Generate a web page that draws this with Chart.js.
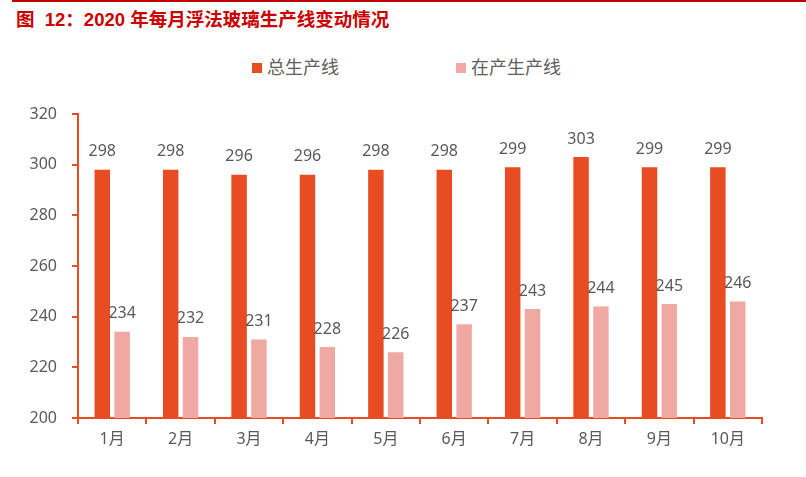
<!DOCTYPE html>
<html>
<head>
<meta charset="utf-8">
<script src="https://cdn.jsdelivr.net/npm/chart.js@4/dist/chart.umd.min.js"></script>
<style>
    body { margin: 0; background: #fff; }
    #wrap { position: relative; width: 806px; height: 477px; overflow: hidden; }
    #topline { position: absolute; left: 12px; right: 0; top: 0; height: 2px; background: #c00000; }
    #title { position: absolute; left: 16px; top: 5px; font: bold 18.5px "Liberation Sans", "Noto Sans CJK SC"; color: #cc0000; white-space: pre; }
    #legend { position: absolute; top: 53px; left: 252px; font: 18px "Noto Sans CJK SC"; color: #606060; white-space: nowrap; }
    #legend span.item { position: absolute; top: 0; }
    #legend i { display: inline-block; width: 10px; height: 10px; margin-right: 5px; vertical-align: 1px; }
    canvas { position: absolute; left: 0; top: 0; }
</style>
</head>
<body>
<div id="wrap">
    <div id="topline"></div>
    <div id="title">图  12：2020 年每月浮法玻璃生产线变动情况</div>
    <div id="legend"></div>
    <canvas id="chart" width="806" height="477"></canvas>
</div>
<script>
const months = ['1月', '2月', '3月', '4月', '5月', '6月', '7月', '8月', '9月', '10月'];
const totalLines = [298, 298, 296, 296, 298, 298, 299, 303, 299, 299];
const activeLines = [234, 232, 231, 228, 226, 237, 243, 244, 245, 246];
const seriesNames = ['总生产线', '在产生产线'];
const seriesColors = ['#e84c22', '#f0a8a2'];

const axisColor = '#e84c22';
const textColor = '#595959';
const tickFont = { family: '"Noto Sans", "Noto Sans CJK SC"', size: 16 };

// legend in html, spaced like the original
const legendBox = document.getElementById('legend');
const legendLeft = [0, 204];
seriesNames.forEach((name, i) => {
    const item = document.createElement('span');
    item.className = 'item';
    item.style.left = legendLeft[i] + 'px';
    item.innerHTML = `<i style="background:${seriesColors[i]}"></i>${name}`;
    legendBox.appendChild(item);
});

// value labels above each bar
const barLabels = {
    id: 'barLabels',
    afterDatasetsDraw(chart) {
        const ctx = chart.ctx;
        ctx.save();
        ctx.font = '16px "Noto Sans"';
        ctx.fillStyle = textColor;
        ctx.textAlign = 'center';
        ctx.textBaseline = 'middle';
        chart.data.datasets.forEach((ds, i) => {
            chart.getDatasetMeta(i).data.forEach((bar, j) => {
                ctx.fillText(ds.data[j], bar.x, bar.y - 18);
            });
        });
        ctx.restore();
    }
};

const chart = new Chart(document.getElementById('chart').getContext('2d'), {
    type: 'bar',
    data: {
        labels: months,
        datasets: [
            {
                label: seriesNames[0],
                data: totalLines,
                backgroundColor: seriesColors[0],
                categoryPercentage: 0.58,
                barPercentage: 0.78
            },
            {
                label: seriesNames[1],
                data: activeLines,
                backgroundColor: seriesColors[1],
                categoryPercentage: 0.58,
                barPercentage: 0.78
            }
        ]
    },
    options: {
        responsive: false,
        animation: false,
        layout: { padding: { left: 0, top: 114, right: 44, bottom: 0 } },
        plugins: {
            legend: { display: false },
            tooltip: { enabled: false }
        },
        scales: {
            x: {
                border: { color: axisColor, width: 2 },
                grid: { color: axisColor, lineWidth: 2, drawOnChartArea: false, tickLength: 6, offset: true },
                ticks: { color: textColor, font: tickFont, padding: 6 },
                afterFit(scale) { scale.height = 59; }
            },
            y: {
                min: 200,
                max: 320,
                border: { color: axisColor, width: 2 },
                grid: { color: axisColor, lineWidth: 2, drawOnChartArea: false, tickLength: 6 },
                ticks: { stepSize: 20, color: textColor, font: tickFont, padding: 15 },
                afterFit(scale) { scale.width = 78; }
            }
        }
    },
    plugins: [barLabels]
});
</script>
</body>
</html>
